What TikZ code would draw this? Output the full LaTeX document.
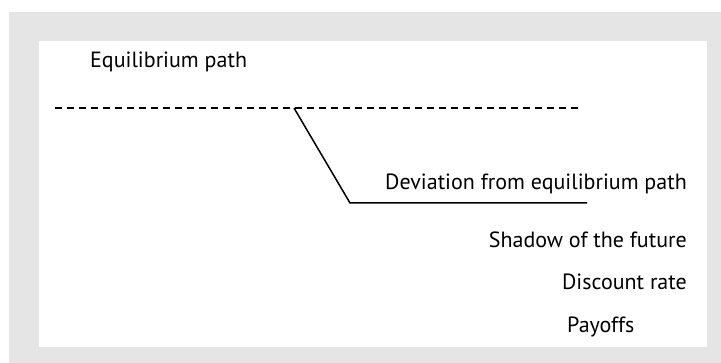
\documentclass[tikz,border=0pt]{standalone}
\usepackage{fontspec}
\setmainfont{PT Sans}
\usepackage{tikz}
\usetikzlibrary{
    arrows.meta,
    positioning,
    calc
}
\definecolor{framegray}{HTML}{E5E5E5}
\tikzset{
    lab/.style={
        inner sep=0pt,
        font=\fontsize{22}{27}\selectfont
    },
    eqpath/.style={
        line width=1.5pt,
        dash pattern=on 7pt off 5pt
    },
    devpath/.style={
        line width=1.5pt,
        line join=miter
    }
}

\begin{document}
\begin{tikzpicture}[x=1pt,y=-1pt]
\useasboundingbox (0,0) rectangle (721,363);
\fill[framegray] (9,12) rectangle (721,363);
\fill[white] (39,41) rectangle (707,347);
\coordinate (eqstart) at (55,108);
\coordinate (eqend) at (578,108);
\coordinate (branch) at (294,108);
\coordinate (kink) at (350,203);
\coordinate (devend) at (587,203);
\node[lab, anchor=base west] (eqlab) at (90,68) {Equilibrium path};
\node[lab, anchor=base east] (devlab) at (687,190) {Deviation from equilibrium path};
\node[lab, anchor=base east] (shadow) at (687,248) {Shadow of the future};
\node[lab, anchor=base east] (discount) at (687,290) {Discount rate};
\node[lab, anchor=base west] (payoffs) at (567,333) {Payoffs};
\draw[eqpath] (eqstart) -- (eqend);
\draw[devpath] (branch) -- (kink) -- (devend);
\end{tikzpicture}
\end{document}
